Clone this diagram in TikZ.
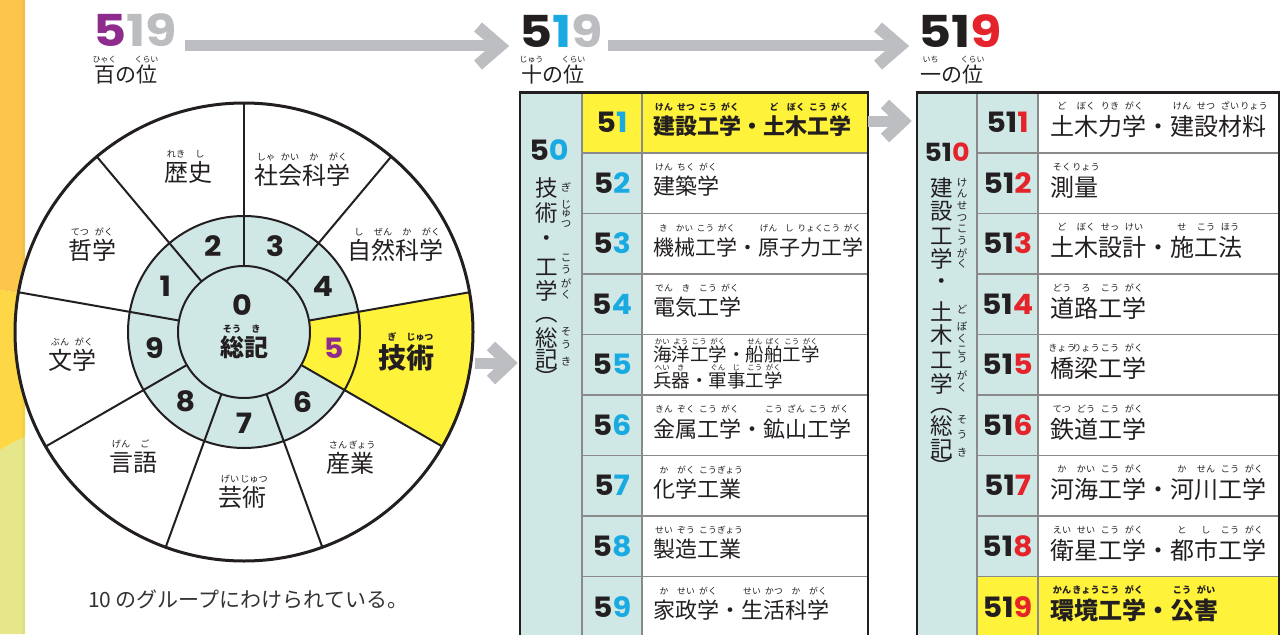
\documentclass[tikz,border=0pt]{standalone}
\usepackage{fontspec}
\setmainfont{Noto Sans CJK JP}
\newfontfamily\numf{Poppins}[FakeStretch=1.08]
\newfontfamily\numfw{Poppins}[FakeStretch=1.16]
\definecolor{ink}{HTML}{231F20}
\definecolor{tealc}{HTML}{CFE8E6}
\definecolor{yel}{HTML}{FFF23A}
\definecolor{purp}{HTML}{8E2C8E}
\definecolor{cyanc}{HTML}{1AAAE2}
\definecolor{redc}{HTML}{E5232B}
\definecolor{gryd}{HTML}{BCBDC0}
\definecolor{arr}{HTML}{BDBEC1}
\definecolor{lineg}{HTML}{8A8A8A}
\definecolor{orng}{HTML}{FBC64B}
\definecolor{yelS}{HTML}{FDD746}
\definecolor{grnS}{HTML}{E6E78A}
\definecolor{textg}{HTML}{333333}
\newlength\rbsz
\newlength\rbup
\def\rbratio{0.38}
\def\rbraise{1.0}
\newcommand{\rb}[2]{{\setlength\rbsz{\rbratio em}\setlength\rbup{\rbraise em}\setbox0=\hbox{#1}\rlap{\hbox to\wd0{\hss\smash{\raisebox{\rbup}{\fontsize{\the\rbsz}{\the\rbsz}\selectfont #2}}\hss}}\box0}}
\begin{document}
\begin{tikzpicture}[x=1pt,y=1pt,
  every node/.style={inner sep=0pt, outer sep=0pt, text=ink},
  shaft/.style={draw=arr, line width=11pt},
  chev/.style={draw=arr, line width=12pt, line join=miter},
  bignum/.style={font=\numfw\bfseries\fontsize{44}{44}\selectfont, anchor=base west},
  placest/.style={font={\fontsize{21}{21}\selectfont\def\rbraise{0.93}}, anchor=base west},
  wnum/.style={font=\numf\bfseries\fontsize{28}{28}\selectfont},
  wlab/.style={font={\fontsize{24}{24}\selectfont\def\rbraise{1.0}}},
  tnum/.style={font=\numf\bfseries\fontsize{28}{28}\selectfont},
  mtext/.style={font={\fontsize{22}{22}\selectfont\def\rbraise{1.1}\def\rbratio{0.4}}, anchor=west},
  stext/.style={font={\fontsize{18.5}{18.5}\selectfont\def\rbraise{0.93}\def\rbratio{0.4}}, anchor=west},
  rtext/.style={font={\fontsize{24}{24}\selectfont\def\rbraise{1.08}\def\rbratio{0.38}}, anchor=west},
  vk/.style={font=\fontsize{22.5}{22.5}\selectfont},
  vf/.style={font=\fontsize{10.5}{10.5}\selectfont},
  tgrid/.style={draw=lineg, line width=1.3pt},
  tframe/.style={draw=ink, line width=2.6pt},
  wl/.style={draw=ink, line width=2pt},
]
\useasboundingbox (0,0) rectangle (1281,-634);
\clip (0,0) rectangle (1281,-634);
% left strip
\fill[orng] (0,0) -- (25,0) -- (25,-294) -- (0,-290) -- cycle;
\fill[yelS] (0,-290) -- (25,-294) -- (25,-437) .. controls (15,-441) and (8,-446) .. (0,-450) -- cycle;
\fill[grnS] (0,-450) .. controls (8,-446) and (15,-441) .. (25,-437) -- (25,-634) -- (0,-634) -- cycle;
\fill[black,opacity=0.035] (21.5,0) rectangle (25,-634);

% wheel
\begin{scope}[shift={(244,-332)}]
\fill[white] (0,0) circle[radius=229];
\fill[tealc] (0,0) circle[radius=116];
\fill[yel] (10:66) arc[start angle=10,end angle=-30,radius=66] -- (-30:229) arc[start angle=-30,end angle=10,radius=229] -- cycle;
\draw[wl] (0,0) circle[radius=116];
\draw[wl] (0,0) circle[radius=66];
\foreach \a in {90,50,10,-30,-70,-110,-150,170,130} \draw[wl] (\a:66) -- (\a:229);
\draw[draw=ink, line width=3pt] (0,0) circle[radius=229];
\foreach \n/\a in {1/150,2/110,3/70,4/30,6/-50,7/-90,8/-130,9/-170} \node[wnum] (n\n) at (\a:91) {\n};
\node[wnum, text=purp] (n5) at (-10:91) {5};
\node[wnum] (n0) at (-2,27) {0};
\node[wlab, font={\bfseries\fontsize{24}{24}\selectfont}] (l0) at (0,-15) {\rb{総}{そう}\rb{記}{き}};
\end{scope}
\node[wlab] (l2) at (188,-172) {\rb{歴}{れき}\rb{史}{し}};
\node[wlab] (l3) at (302,-175) {\rb{社}{しゃ}\rb{会}{かい}\rb{科}{か}\rb{学}{がく}};
\node[wlab] (l4) at (395,-250) {\rb{自}{し}\rb{然}{ぜん}\rb{科}{か}\rb{学}{がく}};
\node[wlab, font={\bfseries\fontsize{28}{28}\selectfont\def\rbratio{0.32}}] (l5) at (406,-358) {\rb{技}{ぎ}\rb{術}{じゅつ}};
\node[wlab] (l6) at (350,-463) {\rb{産}{さん}\rb{業}{ぎょう}};
\node[wlab] (l7) at (242,-498) {\rb{芸}{げい}\rb{術}{じゅつ}};
\node[wlab] (l8) at (133,-463) {\rb{言}{げん}\rb{語}{ご}};
\node[wlab] (l9) at (72,-360) {\rb{文}{ぶん}\rb{学}{がく}};
\node[wlab] (l1) at (92,-250) {\rb{哲}{てつ}\rb{学}{がく}};

% headers
\node[bignum] (h1) at (93,-47) {\textcolor{purp}{5}\textcolor{gryd}{19}};
\node[placest] (p1) at (94,-82) {\rb{百}{ひゃく}の\rb{位}{くらい}};
\node[bignum] (h2) at (519,-48) {5\textcolor{cyanc}{1}\textcolor{gryd}{9}};
\node[placest] (p2) at (521,-82) {\rb{十}{じゅう}の\rb{位}{くらい}};
\node[bignum] (h3) at (918,-48) {51\textcolor{redc}{9}};
\node[placest] (p3) at (920,-82) {\rb{一}{いち}の\rb{位}{くらい}};

% middle table
\fill[tealc] (520,-92.6) rectangle (642,-640);
\fill[white] (642,-92.6) rectangle (868,-640);
\fill[yel] (582,-92.6) rectangle (868,-153.1);
\foreach \y in {153.1,213.6,274.1,334.6,395.1,455.6,516.1,576.6} \draw[tgrid] (582,-\y) -- (868,-\y);
\draw[tgrid] (582,-92.6) -- (582,-640);
\draw[tgrid] (642,-92.6) -- (642,-640);
\draw[tframe] (520,-640) -- (520,-92.6) -- (868,-92.6) -- (868,-640);

% right table
\fill[tealc] (917,-92.6) rectangle (1038,-640);
\fill[white] (1038,-92.6) rectangle (1279,-640);
\fill[yel] (977,-576.6) rectangle (1279,-640);
\foreach \y in {153.1,213.6,274.1,334.6,395.1,455.6,516.1,576.6} \draw[tgrid] (977,-\y) -- (1279,-\y);
\draw[tgrid] (977,-92.6) -- (977,-640);
\draw[tgrid] (1038,-92.6) -- (1038,-640);
\draw[tframe] (917,-640) -- (917,-92.6) -- (1279,-92.6) -- (1279,-640);

% table numbers
\foreach \d/\y in {1/122.6,2/183.1,3/243.6,4/304.1,5/364.6,6/425.1,7/485.6,8/546.1,9/606.6} {
  \node[tnum] (mn\d) at (612,-\y) {5\textcolor{cyanc}{\d}};
  \node[tnum] (rn\d) at (1007.5,-\y) {51\textcolor{redc}{\d}};
}
\node[tnum] (m50) at (549,-150) {5\textcolor{cyanc}{0}};
\node[tnum, font=\numf\bfseries\fontsize{25}{25}\selectfont] (r510) at (947,-152) {51\textcolor{redc}{0}};

% vertical column texts
\foreach \c/\y [count=\i] in {技/188,術/213,・/241,工/267,学/291,︵/320,総/338,記/359,︶/377}
  \node[vk] (mv\i) at (547,-\y) {\c};
\foreach \c/\y [count=\i] in {ぎ/187,じ/205,ゅ/214,つ/224,こ/258,う/270,が/283,く/295,そ/332,う/345,き/362}
  \node[vf] (mf\i) at (566,-\y) {\c};
\foreach \c/\y [count=\i] in {建/188,設/211,工/236,学/259,・/284,土/311,木/335,工/360,学/384,︵/411,総/426,記/449,︶/466}
  \node[vk] (rv\i) at (942,-\y) {\c};
\foreach \c/\y [count=\i] in {け/183,ん/194,せ/206,つ/218,こ/229,う/241,が/253,く/264,ど/309,ぼ/326,く/339,こ/350,う/359,が/375,く/388,そ/420,う/435,き/453}
  \node[vf] (rf\i) at (962,-\y) {\c};

% middle table contents
\node[mtext] (mt1) at (653,-126.1) {\bfseries\rb{建}{けん}\rb{設}{せつ}\rb{工}{こう}\rb{学}{がく}・\rb{土}{ど}\rb{木}{ぼく}\rb{工}{こう}\rb{学}{がく}};
\node[mtext] (mt2) at (653,-186.6) {\rb{建}{けん}\rb{築}{ちく}\rb{学}{がく}};
\node[mtext, font={\fontsize{21}{21}\selectfont\def\rbraise{1.13}\def\rbratio{0.41}}] (mt3) at (653,-247.1) {\rb{機}{き}\rb{械}{かい}\rb{工}{こう}\rb{学}{がく}・\rb{原}{げん}\rb{子}{し}\rb{力}{りょく}\rb{工}{こう}\rb{学}{がく}};
\node[mtext] (mt4) at (653,-307.6) {\rb{電}{でん}\rb{気}{き}\rb{工}{こう}\rb{学}{がく}};
\node[stext] (mt5a) at (653,-354.5) {\rb{海}{かい}\rb{洋}{よう}\rb{工}{こう}\rb{学}{がく}・\rb{船}{せん}\rb{舶}{ぱく}\rb{工}{こう}\rb{学}{がく}};
\node[stext] (mt5b) at (653,-380.5) {\rb{兵}{へい}\rb{器}{き}・\rb{軍}{ぐん}\rb{事}{じ}\rb{工}{こう}\rb{学}{がく}};
\node[mtext] (mt6) at (653,-428.6) {\rb{金}{きん}\rb{属}{ぞく}\rb{工}{こう}\rb{学}{がく}・\rb{鉱}{こう}\rb{山}{ざん}\rb{工}{こう}\rb{学}{がく}};
\node[mtext] (mt7) at (653,-489.1) {\rb{化}{か}\rb{学}{がく}\rb{工}{こう}\rb{業}{ぎょう}};
\node[mtext] (mt8) at (653,-549.6) {\rb{製}{せい}\rb{造}{ぞう}\rb{工}{こう}\rb{業}{ぎょう}};
\node[mtext] (mt9) at (653,-610.1) {\rb{家}{か}\rb{政}{せい}\rb{学}{がく}・\rb{生}{せい}\rb{活}{かつ}\rb{科}{か}\rb{学}{がく}};

% right table contents
\node[rtext] (rt1) at (1050,-126.6) {\rb{土}{ど}\rb{木}{ぼく}\rb{力}{りき}\rb{学}{がく}・\rb{建}{けん}\rb{設}{せつ}\rb{材}{ざい}\rb{料}{りょう}};
\node[rtext] (rt2) at (1050,-187.1) {\rb{測}{そく}\rb{量}{りょう}};
\node[rtext] (rt3) at (1050,-247.6) {\rb{土}{ど}\rb{木}{ぼく}\rb{設}{せっ}\rb{計}{けい}・\rb{施}{せ}\rb{工}{こう}\rb{法}{ほう}};
\node[rtext] (rt4) at (1050,-308.1) {\rb{道}{どう}\rb{路}{ろ}\rb{工}{こう}\rb{学}{がく}};
\node[rtext] (rt5) at (1050,-368.6) {\rb{橋}{きょう}\rb{梁}{りょう}\rb{工}{こう}\rb{学}{がく}};
\node[rtext] (rt6) at (1050,-429.1) {\rb{鉄}{てつ}\rb{道}{どう}\rb{工}{こう}\rb{学}{がく}};
\node[rtext] (rt7) at (1050,-489.6) {\rb{河}{か}\rb{海}{かい}\rb{工}{こう}\rb{学}{がく}・\rb{河}{か}\rb{川}{せん}\rb{工}{こう}\rb{学}{がく}};
\node[rtext] (rt8) at (1050,-550.1) {\rb{衛}{えい}\rb{星}{せい}\rb{工}{こう}\rb{学}{がく}・\rb{都}{と}\rb{市}{し}\rb{工}{こう}\rb{学}{がく}};
\node[rtext] (rt9) at (1050,-610.6) {\bfseries\rb{環}{かん}\rb{境}{きょう}\rb{工}{こう}\rb{学}{がく}・\rb{公}{こう}\rb{害}{がい}};

% arrows
\coordinate (a1s) at (185,-46); \coordinate (a1t) at (500,-46);
\draw[shaft] (a1s) -- (a1t);
\draw[chev] ([shift={(-22,19)}]a1t) -- (a1t) -- ([shift={(-22,-19)}]a1t);
\coordinate (a2s) at (608,-46); \coordinate (a2t) at (900,-46);
\draw[shaft] (a2s) -- (a2t);
\draw[chev] ([shift={(-22,19)}]a2t) -- (a2t) -- ([shift={(-22,-19)}]a2t);
\coordinate (a3s) at (868,-121); \coordinate (a3t) at (903,-121);
\draw[shaft] (a3s) -- (a3t);
\draw[chev] ([shift={(-18,17)}]a3t) -- (a3t) -- ([shift={(-18,-17)}]a3t);
\coordinate (a4s) at (475,-363); \coordinate (a4t) at (509,-363);
\draw[shaft] (a4s) -- (a4t);
\draw[chev] ([shift={(-18,17)}]a4t) -- (a4t) -- ([shift={(-18,-17)}]a4t);

% caption
\node[font=\fontsize{21}{21}\selectfont, text=textg, anchor=base west] (cap) at (88,-607) {10 のグループにわけられている。};
\end{tikzpicture}
\end{document}
